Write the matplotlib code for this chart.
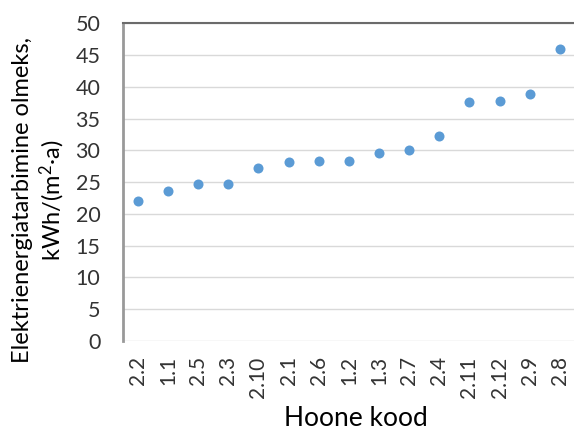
import matplotlib
matplotlib.use("Agg")
import matplotlib.pyplot as plt

# Building codes and electricity consumption
codes = ["2.2", "1.1", "2.5", "2.3", "2.10", "2.1", "2.6", "1.2", "1.3",
         "2.7", "2.4", "2.11", "2.12", "2.9", "2.8"]
consumption = [22.0, 23.6, 24.7, 24.7, 27.3, 28.2, 28.4, 28.4, 29.6,
               30.0, 32.3, 37.6, 37.7, 38.8, 46.0]

plt.rcParams["font.family"] = ["Lato", "DejaVu Sans"]
plt.rcParams["mathtext.fontset"] = "custom"
plt.rcParams["mathtext.rm"] = "Lato"
plt.rcParams["mathtext.it"] = "Lato:italic"

fig = plt.figure(figsize=(5.74, 4.32), dpi=100)
W, H = 574, 432
left, right, top, bottom = 122.7, 575, 23.3, 341
ax = fig.add_axes([left / W, 1 - bottom / H, (right - left) / W, (bottom - top) / H])

x = list(range(len(codes)))
ax.scatter(x, consumption, s=52, color="#5B9BD5", zorder=3, linewidths=0)

ax.set_xlim(-0.5, len(codes) - 0.5)
ax.set_ylim(0, 50)
ax.set_yticks(range(0, 51, 5))
ax.set_xticks(x)
ax.set_xticklabels(codes, rotation=90, fontsize=15, color="#333333")
ax.tick_params(axis="y", labelsize=15.5, labelcolor="#333333", length=0, pad=16)
ax.tick_params(axis="x", length=0, pad=11)

ax.yaxis.grid(True, color="#D9D9D9", linewidth=1)
ax.set_axisbelow(True)

for s in ["right", "bottom"]:
    ax.spines[s].set_visible(False)
ax.spines["top"].set_color("#6B6B6B")
ax.spines["top"].set_linewidth(1.5)
ax.spines["left"].set_color("#999999")
ax.spines["left"].set_linewidth(2)

ax.set_ylabel("Elektrienergiatarbimine olmeks,\nkWh/(m$^{\\mathrm{2}}$·a)", fontsize=17,
              color="#000000", linespacing=1.2)
ax.yaxis.set_label_coords(-0.124, 0.444)
ax.set_xlabel("Hoone kood", fontsize=19, color="#000000")
ax.xaxis.set_label_coords(0.515, -0.205)

fig.savefig("out.png", dpi=100)
